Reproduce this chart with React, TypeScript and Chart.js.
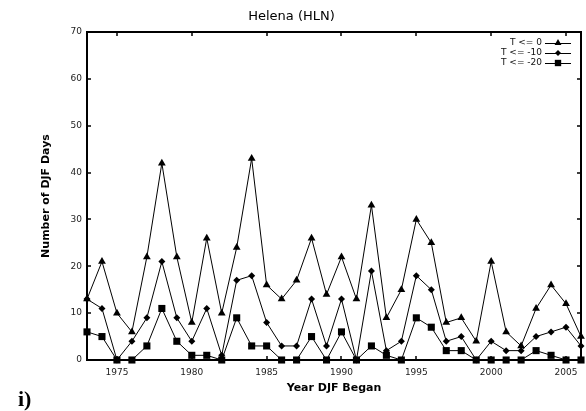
import React, { useEffect, useRef } from 'react';
import { Chart, registerables } from 'chart.js';

Chart.register(...registerables);

// Winter (DJF) seasons, labelled by the year December falls in
const years = [
  1973, 1974, 1975, 1976, 1977, 1978, 1979, 1980, 1981, 1982, 1983, 1984,
  1985, 1986, 1987, 1988, 1989, 1990, 1991, 1992, 1993, 1994, 1995, 1996,
  1997, 1998, 1999, 2000, 2001, 2002, 2003, 2004, 2005, 2006,
];

// Number of DJF days with minimum temperature at or below each threshold
const daysT0 = [
  13, 21, 10, 6, 22, 42, 22, 8, 26, 10, 24, 43,
  16, 13, 17, 26, 14, 22, 13, 33, 9, 15, 30, 25,
  8, 9, 4, 21, 6, 3, 11, 16, 12, 5,
];
const daysT10 = [
  13, 11, 0, 4, 9, 21, 9, 4, 11, 1, 17, 18,
  8, 3, 3, 13, 3, 13, 0, 19, 2, 4, 18, 15,
  4, 5, 0, 4, 2, 2, 5, 6, 7, 3,
];
const daysT20 = [
  6, 5, 0, 0, 3, 11, 4, 1, 1, 0, 9, 3,
  3, 0, 0, 5, 0, 6, 0, 3, 1, 0, 9, 7,
  2, 2, 0, 0, 0, 0, 2, 1, 0, 0,
];

const seriesLabels = ['T <= 0', 'T <= -10', 'T <= -20'];
const xTickValues = [1975, 1980, 1985, 1990, 1995, 2000, 2005];
const yTickValues = [0, 10, 20, 30, 40, 50, 60, 70];

const pointStyles = ['triangle', 'rectRot', 'rect'] as const;
const pointRadii = [4.5, 3.5, 5];

function drawMarker(ctx: CanvasRenderingContext2D, style: string, x: number, y: number, r: number) {
  ctx.beginPath();
  if (style === 'triangle') {
    ctx.moveTo(x, y - r);
    ctx.lineTo(x + r * 0.866, y + r * 0.5);
    ctx.lineTo(x - r * 0.866, y + r * 0.5);
  } else if (style === 'rectRot') {
    ctx.moveTo(x, y - r);
    ctx.lineTo(x + r, y);
    ctx.lineTo(x, y + r);
    ctx.lineTo(x - r, y);
  } else {
    const s = r * Math.SQRT1_2;
    ctx.rect(x - s, y - s, 2 * s, 2 * s);
  }
  ctx.closePath();
  ctx.fill();
}

// Plot frame with short inward tick marks on all four sides
const framePlugin = {
  id: 'frame',
  beforeDatasetsDraw(chart: any) {
    const { ctx, chartArea, scales } = chart;
    const { left, top, right, bottom } = chartArea;
    ctx.save();
    ctx.strokeStyle = '#000';
    ctx.lineWidth = 2;
    ctx.strokeRect(left, top, right - left, bottom - top);
    ctx.lineWidth = 1.5;
    const len = 4;
    ctx.beginPath();
    for (const v of xTickValues) {
      const x = Math.round(scales.x.getPixelForValue(v));
      ctx.moveTo(x, top);
      ctx.lineTo(x, top + len);
      ctx.moveTo(x, bottom);
      ctx.lineTo(x, bottom - len);
    }
    for (const v of yTickValues) {
      const y = Math.round(scales.y.getPixelForValue(v));
      ctx.moveTo(left, y);
      ctx.lineTo(left + len, y);
      ctx.moveTo(right, y);
      ctx.lineTo(right - len, y);
    }
    ctx.stroke();
    ctx.restore();
  },
};

// Legend in the upper right corner: label, then a line sample with its marker
const legendPlugin = {
  id: 'cornerLegend',
  afterDraw(chart: any) {
    const { ctx, chartArea } = chart;
    const { top, right } = chartArea;
    ctx.save();
    ctx.font = '9px "DejaVu Sans"';
    ctx.textAlign = 'right';
    ctx.textBaseline = 'middle';
    chart.data.datasets.forEach((ds: any, i: number) => {
      const y = top + 11 + i * 10;
      ctx.fillStyle = '#111';
      ctx.fillText(ds.label, right - 39, y);
      ctx.strokeStyle = '#000';
      ctx.lineWidth = 1;
      ctx.beginPath();
      ctx.moveTo(right - 36, y + 0.5);
      ctx.lineTo(right - 10, y + 0.5);
      ctx.stroke();
      ctx.fillStyle = '#000';
      drawMarker(ctx, pointStyles[i], right - 23, y, pointRadii[i] - 0.5);
    });
    ctx.restore();
  },
};

function makeDataset(label: string, values: number[], i: number) {
  return {
    label,
    data: years.map((yr, k) => ({ x: yr, y: values[k] })),
    borderColor: '#000',
    backgroundColor: '#000',
    borderWidth: 1,
    pointStyle: pointStyles[i],
    pointRadius: pointRadii[i],
    pointBorderWidth: 0,
    pointBackgroundColor: '#000',
    tension: 0,
    clip: false as const,
  };
}

export default function App() {
  const canvasRef = useRef<HTMLCanvasElement | null>(null);

  useEffect(() => {
    const canvas = canvasRef.current;
    if (!canvas) return;
    const tickFont = { family: '"DejaVu Sans"', size: 9 };
    const chart = new Chart(canvas, {
      type: 'line',
      data: {
        datasets: [
          makeDataset(seriesLabels[0], daysT0, 0),
          makeDataset(seriesLabels[1], daysT10, 1),
          makeDataset(seriesLabels[2], daysT20, 2),
        ],
      },
      options: {
        responsive: false,
        devicePixelRatio: 1,
        animation: false,
        layout: { padding: { left: 0, right: 3, top: 0, bottom: 0 } },
        plugins: {
          legend: { display: false },
          tooltip: { enabled: false },
          title: {
            display: true,
            text: 'Helena (HLN)',
            color: '#000',
            font: { family: '"DejaVu Sans"', size: 13, weight: 'normal' },
            padding: { top: 9, bottom: 7.4 },
          },
        },
        scales: {
          x: {
            type: 'linear',
            min: 1973,
            max: 2006,
            grid: { display: false, drawTicks: false },
            border: { display: false },
            afterBuildTicks: (scale: any) => {
              scale.ticks = xTickValues.map((v) => ({ value: v }));
            },
            afterFit: (scale: any) => {
              scale.height = 51;
            },
            ticks: {
              color: '#222',
              font: tickFont,
              padding: 7,
              maxRotation: 0,
              autoSkip: false,
              callback: (v: any) => String(v),
            },
            title: {
              display: true,
              text: 'Year DJF Began',
              color: '#000',
              font: { family: '"DejaVu Sans"', size: 11, weight: 'bold' },
              padding: { top: 0, bottom: 16 },
            },
          },
          y: {
            type: 'linear',
            min: 0,
            max: 70,
            grid: { display: false, drawTicks: false },
            border: { display: false },
            afterBuildTicks: (scale: any) => {
              scale.ticks = yTickValues.map((v) => ({ value: v }));
            },
            afterFit: (scale: any) => {
              scale.width = 87;
            },
            ticks: {
              color: '#222',
              font: tickFont,
              padding: 5,
              callback: (v: any) => String(v),
            },
            title: {
              display: true,
              text: 'Number of DJF Days',
              color: '#000',
              font: { family: '"DejaVu Sans"', size: 11, weight: 'bold' },
              padding: { top: 40, bottom: 0 },
            },
          },
        },
      },
      plugins: [framePlugin, legendPlugin],
    });
    return () => chart.destroy();
  }, []);

  return (
    <div style={{ position: 'absolute', left: 0, top: 0, width: 586, height: 411, background: '#fff', overflow: 'hidden' }}>
      <canvas ref={canvasRef} width={586} height={411} style={{ display: 'block' }} />
      <div
        style={{
          position: 'absolute',
          left: 18,
          top: 388,
          fontFamily: '"Liberation Serif", serif',
          fontWeight: 'bold',
          fontSize: 22,
          lineHeight: '22px',
        }}
      >
        i)
      </div>
    </div>
  );
}
